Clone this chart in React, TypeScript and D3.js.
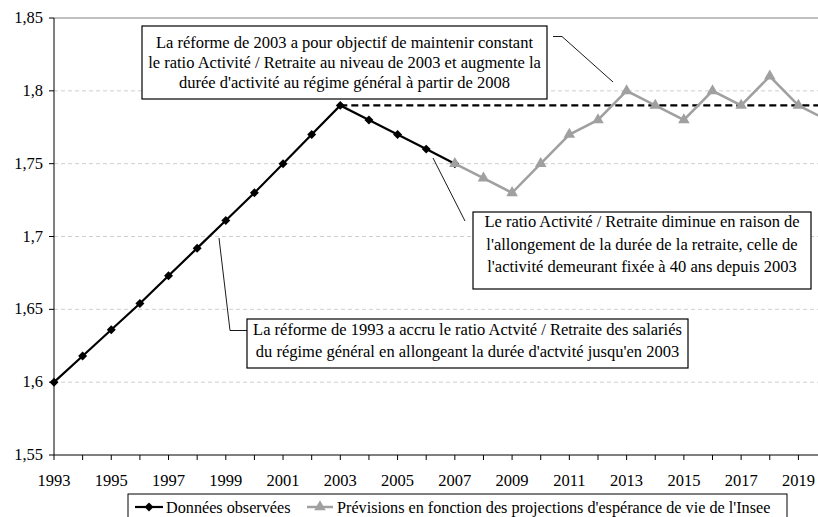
import React from "react";
import * as d3 from "d3";

const observedYears = [1993, 1994, 1995, 1996, 1997, 1998, 1999, 2000, 2001, 2002, 2003, 2004, 2005, 2006, 2007];
const observedValues = [1.6, 1.618, 1.636, 1.654, 1.673, 1.692, 1.711, 1.73, 1.75, 1.77, 1.79, 1.78, 1.77, 1.76, 1.75];

const forecastYears = [2007, 2008, 2009, 2010, 2011, 2012, 2013, 2014, 2015, 2016, 2017, 2018, 2019, 2020];
const forecastValues = [1.75, 1.74, 1.73, 1.75, 1.77, 1.78, 1.8, 1.79, 1.78, 1.8, 1.79, 1.81, 1.79, 1.78];

const targetLevel = 1.79;
const targetFrom = 2003;

const yTicks = [1.55, 1.6, 1.65, 1.7, 1.75, 1.8, 1.85];
const xTickYears = d3.range(1993, 2020);
const xLabelYears = d3.range(1993, 2020, 2);

const legendLabels = ["Données observées", "Prévisions en fonction des projections d'espérance de vie de l'Insee"];

const note2003 = [
  "La réforme de 2003 a pour objectif de maintenir constant",
  "le ratio Activité / Retraite au niveau de 2003 et augmente la",
  "durée d'activité au régime général à partir de 2008",
];
const noteDecline = [
  "Le ratio Activité / Retraite diminue en raison de",
  "l'allongement de la durée de la retraite, celle de",
  "l'activité demeurant fixée à 40 ans depuis 2003",
];
const note1993 = [
  "La réforme de 1993 a accru le ratio Actvité / Retraite des salariés",
  "du régime général en allongeant la durée d'actvité jusqu'en 2003",
];

const W = 818;
const H = 517;
const FONT = "'Times New Roman', 'Liberation Serif', 'DejaVu Serif', serif";
const FS = 16.5;
const GREY = "#a0a0a0";

const fmt = (v: number) => d3.format(".2~f")(v).replace(".", ",");

export default function App() {
  const x = d3.scaleLinear().domain([1993, 2019]).range([54, 798.4]);
  const y = d3.scaleLinear().domain([1.55, 1.85]).range([455, 18]);

  const line = d3
    .line<[number, number]>()
    .x((d) => x(d[0]))
    .y((d) => y(d[1]));

  const observed = observedYears.map((yr, i) => [yr, observedValues[i]] as [number, number]);
  const forecast = forecastYears.map((yr, i) => [yr, forecastValues[i]] as [number, number]);

  const diamond = d3.symbol(d3.symbolSquare, 40)()!;
  const triangle = d3.symbol(d3.symbolTriangle, 58)()!;

  const noteBox = (lines: string[], x0: number, y0: number, x1: number, y1: number, base: number, step: number) => (
    <g>
      <rect x={x0} y={y0} width={x1 - x0} height={y1 - y0} fill="#fff" stroke="#000" strokeWidth={1.2} />
      {lines.map((t, i) => (
        <text key={i} x={(x0 + x1) / 2} y={base + i * step} textAnchor="middle" fontSize={FS} fill="#000">
          {t}
        </text>
      ))}
    </g>
  );

  return (
    <svg width={W} height={H} style={{ position: "absolute", left: 0, top: 0, background: "#fff" }}>
      <g fontFamily={FONT}>
        <rect width={W} height={H} fill="#fff" />

        {/* grid */}
        {yTicks.slice(1, -1).map((t) => (
          <line key={t} x1={x(1993)} x2={W} y1={y(t)} y2={y(t)} stroke="#cfcfcf" strokeDasharray="4,3" />
        ))}
        <line x1={x(1993)} x2={W} y1={y(1.85)} y2={y(1.85)} stroke="#808080" />

        {/* target level */}
        <line
          x1={x(targetFrom)}
          x2={x(2020)}
          y1={y(targetLevel)}
          y2={y(targetLevel)}
          stroke="#000"
          strokeWidth={2.4}
          strokeDasharray="7,4"
        />

        {/* axes */}
        <line x1={x(1993)} x2={x(1993)} y1={y(1.85)} y2={y(1.55)} stroke="#000" />
        <line x1={x(1993)} x2={W} y1={y(1.55)} y2={y(1.55)} stroke="#000" />
        {yTicks.map((t) => (
          <g key={t}>
            <line x1={x(1993) - 5} x2={x(1993)} y1={y(t)} y2={y(t)} stroke="#000" />
            <text x={43} y={y(t) + 5} textAnchor="end" fontSize={FS}>
              {fmt(t)}
            </text>
          </g>
        ))}
        {xTickYears.map((yr) => (
          <line key={yr} x1={x(yr)} x2={x(yr)} y1={y(1.55)} y2={y(1.55) + 5} stroke="#000" />
        ))}
        {xLabelYears.map((yr) => (
          <text key={yr} x={x(yr)} y={486} textAnchor="middle" fontSize={FS}>
            {yr}
          </text>
        ))}

        {/* series */}
        <path d={line(forecast)!} fill="none" stroke={GREY} strokeWidth={2.5} />
        <path d={line(observed)!} fill="none" stroke="#000" strokeWidth={2.2} />
        {observed.map((d) => (
          <path key={d[0]} d={diamond} transform={`translate(${x(d[0])},${y(d[1])}) rotate(45)`} fill="#000" />
        ))}
        {forecast.map((d) => (
          <path key={d[0]} d={triangle} transform={`translate(${x(d[0])},${y(d[1])})`} fill={GREY} />
        ))}

        {/* leader lines */}
        <polyline points="553,36.5 562,36.5 613,82" fill="none" stroke="#000" strokeWidth={0.9} />
        <polyline points="433,158 465,221" fill="none" stroke="#000" strokeWidth={0.9} />
        <polyline points="219,238 230,330.5 247,330.5" fill="none" stroke="#000" strokeWidth={0.9} />

        {/* notes */}
        {noteBox(note2003, 142, 26, 547, 99, 48, 20)}
        {noteBox(noteDecline, 473, 212, 811, 289, 227, 22.5)}
        {noteBox(note1993, 247, 319, 688, 368, 335, 22)}

        {/* legend */}
        <rect x={128} y={494} width={659} height={40} fill="#fff" stroke="#000" />
        <line x1={135} x2={163} y1={507} y2={507} stroke="#000" strokeWidth={2.2} />
        <path d={diamond} transform="translate(149,507) rotate(45)" fill="#000" />
        <text x={166} y={513} fontSize={16.2}>
          {legendLabels[0]}
        </text>
        <line x1={307} x2={333} y1={507} y2={507} stroke={GREY} strokeWidth={2.5} />
        <path d={triangle} transform="translate(320,507)" fill={GREY} />
        <text x={337} y={513} fontSize={16.2}>
          {legendLabels[1]}
        </text>
      </g>
    </svg>
  );
}
